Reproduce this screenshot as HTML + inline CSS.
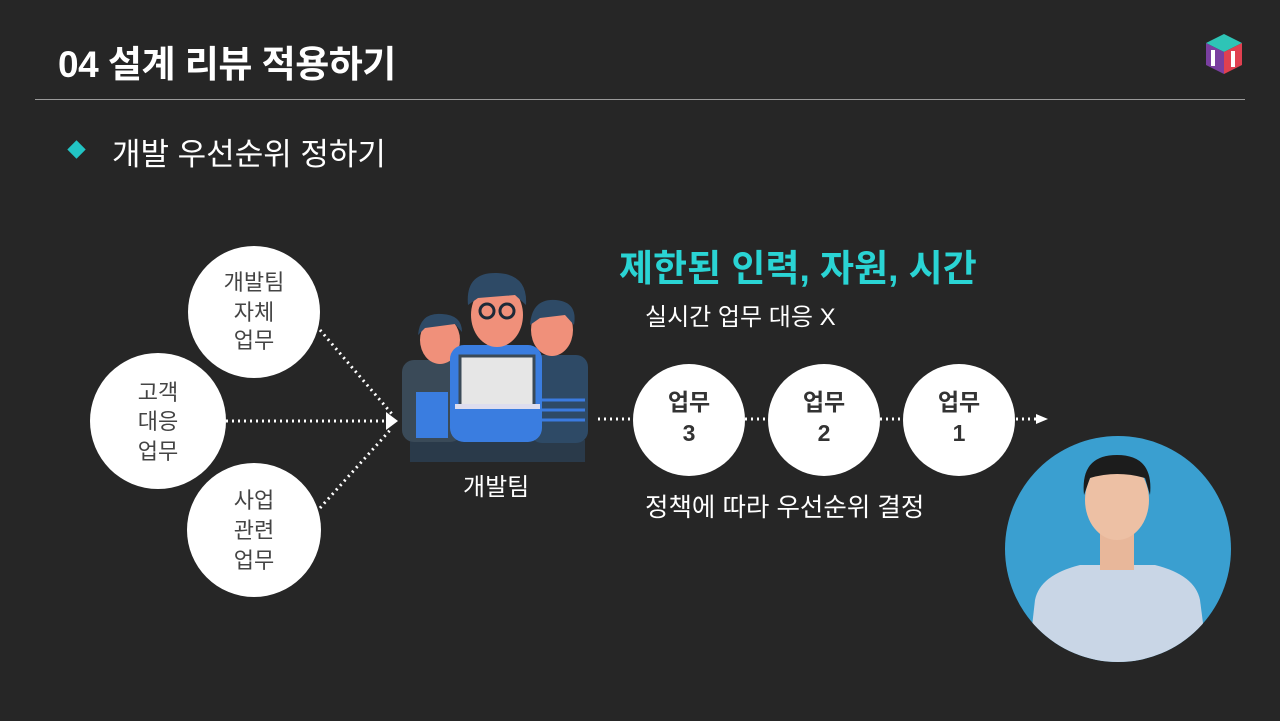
<!DOCTYPE html>
<html><head><meta charset="utf-8"><style>
body{margin:0;width:1280px;height:721px;background:#262626;overflow:hidden;font-family:"Liberation Sans","Noto Sans CJK KR",sans-serif;position:relative}
.t{position:absolute;white-space:nowrap}
</style></head><body>
<div class="t" style="left:58px;top:34px;font-size:37px;font-weight:bold;color:#fff;letter-spacing:-0.5px">04 설계 리뷰 적용하기</div>
<div style="position:absolute;left:35px;top:99px;width:1210px;height:1px;background:#9a9a9a"></div>
<div style="position:absolute;left:70px;top:143px;width:13px;height:13px;background:#22c4c4;transform:rotate(45deg)"></div>
<div class="t" style="left:112px;top:129px;font-size:31px;color:#fff">개발 우선순위 정하기</div>
<div class="t" style="left:619px;top:238px;font-size:37px;font-weight:bold;color:#2ad4d4">제한된 인력, 자원, 시간</div>
<div class="t" style="left:645px;top:297px;font-size:24px;color:#fff">실시간 업무 대응 X</div>
<div class="t" style="left:645px;top:487px;font-size:25.5px;color:#fff">정책에 따라 우선순위 결정</div>
<div class="t" style="left:463px;top:467px;font-size:24px;color:#fff">개발팀</div>
<svg width="1280" height="721" style="position:absolute;left:0;top:0">
<g fill="none" stroke="#fff" stroke-width="3" stroke-dasharray="2 4">
<line x1="320" y1="330" x2="392" y2="414"/><line x1="226" y1="421" x2="392" y2="421"/><line x1="320" y1="508" x2="392" y2="428"/>
<line x1="598" y1="419" x2="633" y2="419"/><line x1="745" y1="419" x2="768" y2="419"/><line x1="880" y1="419" x2="903" y2="419"/><line x1="1016" y1="419" x2="1038" y2="419"/>
</g>
<polygon points="1036,414 1048,419 1036,424" fill="#fff"/>
<polygon points="386,412 398,421 386,430" fill="#fff"/>
<g fill="#fff"><circle cx="254" cy="312" r="66"/><circle cx="158" cy="421" r="68"/><circle cx="254" cy="530" r="67"/>
<circle cx="689" cy="420" r="56"/><circle cx="824" cy="420" r="56"/><circle cx="959" cy="420" r="56"/></g>
<g font-family="Liberation Sans,Noto Sans CJK KR,sans-serif" font-size="22" fill="#444" text-anchor="middle">
<text x="254" y="290">개발팀</text><text x="254" y="320">자체</text><text x="254" y="348">업무</text>
<text x="158" y="400">고객</text><text x="158" y="429">대응</text><text x="158" y="459">업무</text>
<text x="254" y="508">사업</text><text x="254" y="538">관련</text><text x="254" y="568">업무</text>
<g font-weight="bold" font-size="23" fill="#333"><text x="689" y="410">업무</text><text x="689" y="441">3</text><text x="824" y="410">업무</text><text x="824" y="441">2</text><text x="959" y="410">업무</text><text x="959" y="441">1</text></g>
</g>
<rect x="410" y="440" width="175" height="22" fill="#2a3a4a"/>
<rect x="402" y="360" width="60" height="82" rx="12" fill="#3a4a58"/>
<ellipse cx="440" cy="340" rx="20" ry="24" fill="#f0907a"/><path d="M418 335 Q420 312 442 314 Q462 315 462 332 L455 324 L425 328Z" fill="#2e4a66"/>
<rect x="530" y="355" width="58" height="88" rx="12" fill="#2e4a66"/><g stroke="#3b7be0" stroke-width="3"><line x1="535" y1="400" x2="585" y2="400"/><line x1="535" y1="410" x2="585" y2="410"/><line x1="535" y1="420" x2="585" y2="420"/></g>
<ellipse cx="552" cy="330" rx="21" ry="26" fill="#f0907a"/><path d="M530 325 Q532 298 556 300 Q578 302 574 325 L565 315 L540 318Z" fill="#2e4a66"/>
<rect x="450" y="345" width="92" height="97" rx="14" fill="#3a7de0"/>
<ellipse cx="497" cy="315" rx="26" ry="32" fill="#f0907a"/>
<path d="M468 305 Q465 272 497 273 Q528 274 526 305 L515 295 L478 298Z" fill="#2e4a66"/>
<circle cx="487" cy="311" r="7" fill="none" stroke="#1d2a38" stroke-width="3"/><circle cx="507" cy="311" r="7" fill="none" stroke="#1d2a38" stroke-width="3"/>
<rect x="460" y="356" width="74" height="50" fill="#e6e6e6" stroke="#3a4a58" stroke-width="3"/>
<rect x="455" y="404" width="85" height="5" fill="#dde"/>
<rect x="416" y="392" width="32" height="46" fill="#3a7de0"/>
<g transform="translate(1206,34)"><polygon points="18,0 36,9 18,18 0,9" fill="#2ec4b6"/><polygon points="0,9 18,18 18,40 0,31" fill="#7a3fa0"/><polygon points="18,18 36,9 36,31 18,40" fill="#e04050"/><rect x="5" y="16" width="4" height="16" fill="#fff"/><rect x="25" y="17" width="4" height="16" fill="#fff"/></g>
<defs><clipPath id="c"><circle cx="1118" cy="549" r="113"/></clipPath></defs>
<circle cx="1118" cy="549" r="113" fill="#3a9fd0"/>
<g clip-path="url(#c)">
<path d="M1028 662 L1035 600 Q1040 575 1080 565 L1155 565 Q1195 575 1200 600 L1208 662Z" fill="#c9d6e6"/>
<rect x="1100" y="530" width="34" height="40" fill="#e8b79a"/>
<ellipse cx="1117" cy="500" rx="32" ry="40" fill="#edc0a4"/>
<path d="M1084 495 Q1080 455 1117 455 Q1154 455 1150 495 L1145 478 Q1117 470 1090 478Z" fill="#1c1c1c"/>
</g>
</svg>
</body></html>
